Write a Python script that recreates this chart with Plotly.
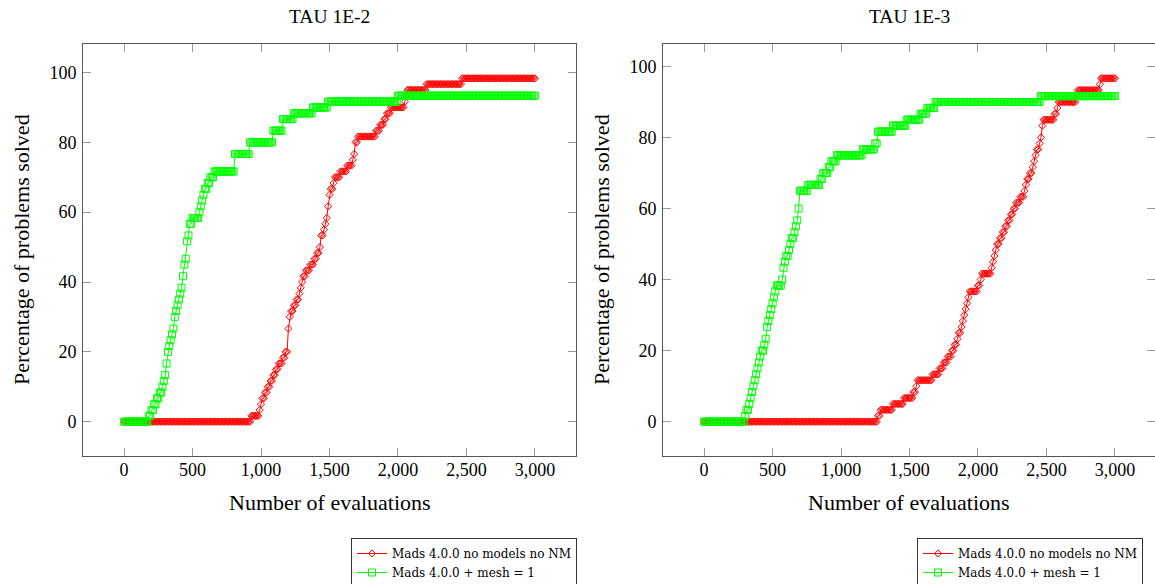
import plotly.graph_objects as go

# Evaluation budget at which each profile is sampled (every 10 evaluations)
evaluations = list(range(0, 3001, 10))
n_problems = 60

# Number of problems solved (out of 60), one row per 100 evaluations
tau2_no_models = [
    0, 0, 0, 0, 0, 0, 0, 0, 0, 0,
    0, 0, 0, 0, 0, 0, 0, 0, 0, 0,
    0, 0, 0, 0, 0, 0, 0, 0, 0, 0,
    0, 0, 0, 0, 0, 0, 0, 0, 0, 0,
    0, 0, 0, 0, 0, 0, 0, 0, 0, 0,
    0, 0, 0, 0, 0, 0, 0, 0, 0, 0,
    0, 0, 0, 0, 0, 0, 0, 0, 0, 0,
    0, 0, 0, 0, 0, 0, 0, 0, 0, 0,
    0, 0, 0, 0, 0, 0, 0, 0, 0, 0,
    0, 0, 0, 1, 1, 1, 1, 1, 1, 2,
    3, 4, 4, 5, 5, 6, 6, 7, 7, 8,
    8, 9, 9, 10, 10, 10, 11, 11, 12, 12,
    16, 18, 19, 19, 20, 20, 21, 21, 22, 23,
    24, 25, 25, 26, 26, 26, 27, 27, 27, 28,
    28, 29, 29, 30, 32, 32, 33, 34, 35, 37,
    39, 40, 40, 41, 42, 42, 42, 42, 43, 43,
    43, 43, 43, 44, 44, 44, 44, 45, 46, 48,
    48, 49, 49, 49, 49, 49, 49, 49, 49, 49,
    49, 49, 49, 49, 50, 50, 50, 51, 51, 51,
    52, 52, 53, 53, 53, 54, 54, 54, 54, 54,
    54, 54, 54, 54, 54, 55, 56, 57, 57, 57,
    57, 57, 57, 57, 57, 57, 57, 57, 57, 57,
    57, 58, 58, 58, 58, 58, 58, 58, 58, 58,
    58, 58, 58, 58, 58, 58, 58, 58, 58, 58,
    58, 58, 58, 58, 58, 58, 58, 59, 59, 59,
    59, 59, 59, 59, 59, 59, 59, 59, 59, 59,
    59, 59, 59, 59, 59, 59, 59, 59, 59, 59,
    59, 59, 59, 59, 59, 59, 59, 59, 59, 59,
    59, 59, 59, 59, 59, 59, 59, 59, 59, 59,
    59, 59, 59, 59, 59, 59, 59, 59, 59, 59,
    59,
]

tau2_mesh1 = [
    0, 0, 0, 0, 0, 0, 0, 0, 0, 0,
    0, 0, 0, 0, 0, 0, 0, 0, 1, 1,
    2, 2, 3, 3, 4, 4, 5, 5, 6, 7,
    8, 10, 12, 13, 14, 15, 16, 18, 19, 20,
    21, 22, 23, 25, 27, 28, 31, 32, 34, 34,
    35, 35, 35, 35, 35, 36, 37, 38, 39, 40,
    40, 41, 41, 42, 42, 42, 43, 43, 43, 43,
    43, 43, 43, 43, 43, 43, 43, 43, 43, 43,
    43, 46, 46, 46, 46, 46, 46, 46, 46, 46,
    46, 46, 48, 48, 48, 48, 48, 48, 48, 48,
    48, 48, 48, 48, 48, 48, 48, 48, 48, 50,
    50, 50, 50, 50, 50, 50, 52, 52, 52, 52,
    52, 52, 52, 52, 53, 53, 53, 53, 53, 53,
    53, 53, 53, 53, 53, 53, 53, 53, 54, 54,
    54, 54, 54, 54, 54, 54, 54, 54, 54, 55,
    55, 55, 55, 55, 55, 55, 55, 55, 55, 55,
    55, 55, 55, 55, 55, 55, 55, 55, 55, 55,
    55, 55, 55, 55, 55, 55, 55, 55, 55, 55,
    55, 55, 55, 55, 55, 55, 55, 55, 55, 55,
    55, 55, 55, 55, 55, 55, 55, 55, 55, 55,
    56, 56, 56, 56, 56, 56, 56, 56, 56, 56,
    56, 56, 56, 56, 56, 56, 56, 56, 56, 56,
    56, 56, 56, 56, 56, 56, 56, 56, 56, 56,
    56, 56, 56, 56, 56, 56, 56, 56, 56, 56,
    56, 56, 56, 56, 56, 56, 56, 56, 56, 56,
    56, 56, 56, 56, 56, 56, 56, 56, 56, 56,
    56, 56, 56, 56, 56, 56, 56, 56, 56, 56,
    56, 56, 56, 56, 56, 56, 56, 56, 56, 56,
    56, 56, 56, 56, 56, 56, 56, 56, 56, 56,
    56, 56, 56, 56, 56, 56, 56, 56, 56, 56,
    56,
]

tau3_no_models = [
    0, 0, 0, 0, 0, 0, 0, 0, 0, 0,
    0, 0, 0, 0, 0, 0, 0, 0, 0, 0,
    0, 0, 0, 0, 0, 0, 0, 0, 0, 0,
    0, 0, 0, 0, 0, 0, 0, 0, 0, 0,
    0, 0, 0, 0, 0, 0, 0, 0, 0, 0,
    0, 0, 0, 0, 0, 0, 0, 0, 0, 0,
    0, 0, 0, 0, 0, 0, 0, 0, 0, 0,
    0, 0, 0, 0, 0, 0, 0, 0, 0, 0,
    0, 0, 0, 0, 0, 0, 0, 0, 0, 0,
    0, 0, 0, 0, 0, 0, 0, 0, 0, 0,
    0, 0, 0, 0, 0, 0, 0, 0, 0, 0,
    0, 0, 0, 0, 0, 0, 0, 0, 0, 0,
    0, 0, 0, 0, 0, 0, 0, 1, 1, 2,
    2, 2, 2, 2, 2, 2, 2, 2, 3, 3,
    3, 3, 3, 3, 3, 3, 4, 4, 4, 4,
    4, 4, 4, 5, 5, 6, 7, 7, 7, 7,
    7, 7, 7, 7, 7, 7, 7, 8, 8, 8,
    8, 8, 9, 9, 9, 10, 10, 10, 11, 11,
    11, 12, 12, 13, 13, 14, 15, 15, 16, 17,
    18, 19, 20, 21, 22, 22, 22, 22, 22, 22,
    23, 23, 24, 25, 25, 25, 25, 25, 25, 25,
    26, 27, 28, 29, 30, 30, 31, 31, 32, 32,
    33, 33, 34, 34, 35, 35, 36, 36, 37, 37,
    37, 38, 38, 38, 39, 40, 41, 41, 42, 42,
    43, 44, 45, 46, 46, 47, 48, 50, 51, 51,
    51, 51, 51, 51, 51, 51, 52, 52, 53, 54,
    54, 54, 54, 54, 54, 54, 54, 54, 54, 54,
    54, 54, 55, 56, 56, 56, 56, 56, 56, 56,
    56, 56, 56, 56, 56, 56, 56, 56, 56, 57,
    58, 58, 58, 58, 58, 58, 58, 58, 58, 58,
    58,
]

tau3_mesh1 = [
    0, 0, 0, 0, 0, 0, 0, 0, 0, 0,
    0, 0, 0, 0, 0, 0, 0, 0, 0, 0,
    0, 0, 0, 0, 0, 0, 0, 0, 0, 0,
    1, 2, 2, 3, 4, 5, 6, 7, 8, 9,
    10, 11, 12, 12, 13, 14, 16, 17, 18, 19,
    20, 21, 22, 23, 23, 23, 23, 24, 26, 27,
    28, 28, 29, 30, 31, 31, 32, 33, 34, 36,
    39, 39, 39, 39, 39, 39, 40, 40, 40, 40,
    40, 40, 40, 40, 40, 41, 41, 42, 42, 42,
    42, 43, 43, 44, 44, 44, 44, 45, 45, 45,
    45, 45, 45, 45, 45, 45, 45, 45, 45, 45,
    45, 45, 45, 45, 45, 45, 46, 46, 46, 46,
    46, 46, 46, 46, 46, 47, 47, 49, 49, 49,
    49, 49, 49, 49, 49, 49, 49, 49, 50, 50,
    50, 50, 50, 50, 50, 50, 50, 50, 51, 51,
    51, 51, 51, 51, 51, 51, 51, 51, 52, 52,
    52, 52, 52, 53, 53, 53, 53, 53, 53, 54,
    54, 54, 54, 54, 54, 54, 54, 54, 54, 54,
    54, 54, 54, 54, 54, 54, 54, 54, 54, 54,
    54, 54, 54, 54, 54, 54, 54, 54, 54, 54,
    54, 54, 54, 54, 54, 54, 54, 54, 54, 54,
    54, 54, 54, 54, 54, 54, 54, 54, 54, 54,
    54, 54, 54, 54, 54, 54, 54, 54, 54, 54,
    54, 54, 54, 54, 54, 54, 54, 54, 54, 54,
    54, 54, 54, 54, 54, 54, 55, 55, 55, 55,
    55, 55, 55, 55, 55, 55, 55, 55, 55, 55,
    55, 55, 55, 55, 55, 55, 55, 55, 55, 55,
    55, 55, 55, 55, 55, 55, 55, 55, 55, 55,
    55, 55, 55, 55, 55, 55, 55, 55, 55, 55,
    55, 55, 55, 55, 55, 55, 55, 55, 55, 55,
    55,
]

panel_titles = ["TAU 1E-2", "TAU 1E-3"]
series_names = ["Mads 4.0.0 no models no NM", "Mads 4.0.0 + mesh = 1"]
x_ticks = [0, 500, 1000, 1500, 2000, 2500, 3000]
y_ticks = [0, 20, 40, 60, 80, 100]


def pct(counts):
    return [100.0 * c / n_problems for c in counts]


W, H = 1155, 584
SERIF = "Liberation Serif, Times New Roman, serif"
RED = "#ff0000"
GREEN = "#00ff00"
LINE_C = "#555555"
TICK_C = "#999999"


def px_x(p):
    return p / W


def px_y(p):
    return 1 - p / H


fig = go.Figure()

panels = [
    dict(xa="x", ya="y", legend="legend", data=(tau2_no_models, tau2_mesh1)),
    dict(xa="x2", ya="y2", legend="legend2", data=(tau3_no_models, tau3_mesh1)),
]

for p in panels:
    red_counts, green_counts = p["data"]
    fig.add_trace(go.Scatter(
        x=evaluations, y=pct(red_counts), xaxis=p["xa"], yaxis=p["ya"],
        name=series_names[0], legend=p["legend"], mode="lines+markers",
        line=dict(color=RED, width=1),
        marker=dict(symbol="diamond-open", size=5.5, color=RED, line=dict(width=1, color=RED)),
    ))
    fig.add_trace(go.Scatter(
        x=evaluations, y=pct(green_counts), xaxis=p["xa"], yaxis=p["ya"],
        name=series_names[1], legend=p["legend"], mode="lines+markers",
        line=dict(color=GREEN, width=1),
        marker=dict(symbol="square-open", size=7, color=GREEN, line=dict(width=1, color=GREEN)),
    ))

y_dom = [px_y(456), px_y(44)]

common_x = dict(
    tickvals=x_ticks, tickformat=",", ticks="inside", ticklen=8, tickcolor=TICK_C,
    tickwidth=1, showline=True, linecolor=LINE_C, linewidth=1, mirror="ticks",
    showgrid=False, zeroline=False, automargin=False, ticklabelstandoff=-3,
    tickfont=dict(family=SERIF, size=18, color="black"),
)
common_y = dict(
    tickvals=y_ticks, ticks="inside", ticklen=8, tickcolor=TICK_C, tickwidth=1,
    showline=True, linecolor=LINE_C, linewidth=1, showgrid=False, zeroline=False,
    automargin=False, domain=y_dom, ticklabelstandoff=2,
    tickfont=dict(family=SERIF, size=18, color="black"),
)

legend_style = dict(
    bordercolor="#333333", borderwidth=1, bgcolor="white",
    font=dict(family="DejaVu Serif", size=12, color="black"),
    tracegroupgap=0, itemwidth=30, yanchor="top", y=px_y(538),
)

fig.update_layout(
    width=W, height=H,
    margin=dict(l=0, r=0, t=0, b=0, autoexpand=False),
    plot_bgcolor="white", paper_bgcolor="white",
    template="none",
    xaxis=dict(common_x, domain=[px_x(83), px_x(576)], range=[-300, 3300], anchor="y"),
    yaxis=dict(common_y, range=[-9.8333, 108.1667], anchor="x", mirror="ticks"),
    xaxis2=dict(common_x, domain=[px_x(663), 1.0], range=[-300, 3292.7], anchor="y2"),
    yaxis2=dict(common_y, range=[-9.6667, 106.3333], anchor="x2", mirror=False),
    # right-hand tick marks of the second panel (its frame runs past the page edge)
    yaxis3=dict(
        overlaying="y2", side="right", anchor="x2", matches="y2",
        tickvals=y_ticks, ticks="inside", ticklen=8, tickcolor=TICK_C, tickwidth=1,
        showline=False, showticklabels=False, showgrid=False, zeroline=False,
        automargin=False,
    ),
    legend=dict(legend_style, x=px_x(577), xanchor="right"),
    legend2=dict(legend_style, x=px_x(917), xanchor="left"),
    showlegend=True,
)

# empty trace so the overlay axis is rendered
fig.add_trace(go.Scatter(x=[None], y=[None], xaxis="x2", yaxis="y3", showlegend=False, hoverinfo="skip"))

annotations = []
for cx, title in zip([329.5, 909.5], panel_titles):
    annotations.append(dict(
        text=title, x=px_x(cx), y=px_y(17), xref="paper", yref="paper",
        xanchor="center", yanchor="middle", showarrow=False,
        font=dict(family=SERIF, size=19.5, color="black"),
    ))
    annotations.append(dict(
        text="Number of evaluations", x=px_x(cx), y=px_y(503), xref="paper", yref="paper",
        xanchor="center", yanchor="middle", showarrow=False,
        font=dict(family=SERIF, size=22, color="black"),
    ))
for cx in [21, 601]:
    annotations.append(dict(
        text="Percentage of problems solved", x=px_x(cx), y=px_y(250), xref="paper", yref="paper",
        xanchor="center", yanchor="middle", showarrow=False, textangle=-90,
        font=dict(family=SERIF, size=22, color="black"),
    ))
fig.update_layout(annotations=annotations)

fig.write_html("out.html")
